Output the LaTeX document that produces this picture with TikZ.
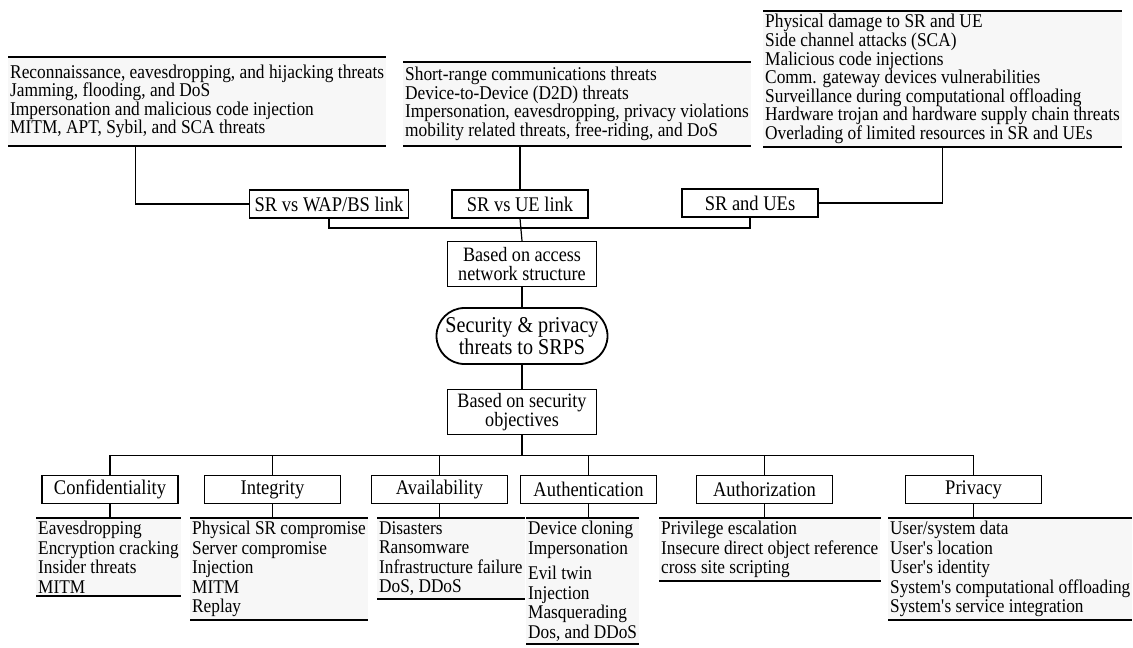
\documentclass[tikz,border=0pt]{standalone}
\usepackage{fontspec}
\setmainfont[FakeStretch=0.89]{Liberation Serif}
\usepackage{tikz}
\usetikzlibrary{positioning}

\definecolor{listgray}{HTML}{F7F7F7}
\newcommand{\apos}{\textquotesingle}

\begin{document}
\begin{tikzpicture}[
  x=1pt, y=-1pt,
  node distance=20pt and 20pt,
  headbox/.style={rectangle, draw=black, line width=1.2pt, minimum width=136pt,
             minimum height=28pt, inner xsep=5pt, inner ysep=2pt,
             font=\fontsize{20.8}{19}\selectfont},
  stagebox/.style={rectangle, draw=black, line width=1.2pt, align=center,
             minimum width=149pt, minimum height=45pt, inner sep=2pt,
             font=\fontsize{20.4}{19.5}\selectfont},
  corebox/.style={rectangle, rounded corners=28pt, draw=black, line width=1.8pt,
             align=center, minimum width=171pt, minimum height=56pt, inner sep=2pt,
             font=\fontsize{22.6}{22}\selectfont},
  rule/.style={draw=black, line width=1.8pt},
  listbox/.style={rectangle, fill=listgray, align=left, inner xsep=2pt, inner ysep=3pt,
             font=\fontsize{19.4}{19.5}\selectfont,
             append after command={(\tikzlastnode.north west) edge[rule] (\tikzlastnode.north east)
                                   (\tikzlastnode.south west) edge[rule] (\tikzlastnode.south east)}},
  toplist/.style={listbox, font=\fontsize{19.5}{18.6}\selectfont},
  link/.style={line width=1.2pt, color=black}
]
\useasboundingbox (0,0) rectangle (1133,648);

% threats by access network structure
\node[toplist, anchor=south west, minimum height=89pt] (recon-list) at (8,146) {%
  Reconnaissance, eavesdropping, and hijacking threats\\
  Jamming, flooding, and DoS\\
  Impersonation and malicious code injection\\
  MITM, APT, Sybil, and SCA threats};
\node[toplist, anchor=south west, minimum height=84pt] (d2d-list) at (403,146) {%
  Short-range communications threats\\
  Device-to-Device (D2D) threats\\
  Impersonation, eavesdropping, privacy violations\\
  mobility related threats, free-riding, and DoS};
\node[toplist, anchor=south west] (phys-list) at (763,147) {%
  Physical damage to SR and UE\\
  Side channel attacks (SCA)\\
  Malicious code injections\\
  Comm. gateway devices vulnerabilities\\
  Surveillance during computational offloading\\
  Hardware trojan and hardware supply chain threats\\
  Overlading of limited resources in SR and UEs};

\node[headbox] (wap) at (329,204) {SR vs WAP/BS link};
\node[headbox] (ue) at (520,204) {SR vs UE link};
\node[headbox] (ues) at (750,203) {SR and UEs};

% centre
\node[corebox] (core) at (522,336) {Security \& privacy\\threats to SRPS};
\node[stagebox, above=20pt of core] (access) {Based on access\\network structure};
\node[stagebox, below=24pt of core] (secobj) {Based on security\\objectives};

% threats by security objectives
\node[headbox] (conf) at (110,489.5) {Confidentiality};
\node[headbox] (integ) at (272.5,489.5) {Integrity};
\node[headbox] (avail) at (439.5,489.5) {Availability};
\node[headbox] (authn) at (588.5,489.5) {Authentication};
\node[headbox] (authz) at (764.5,489.5) {Authorization};
\node[headbox] (priv) at (973.5,489.5) {Privacy};

\node[listbox, anchor=north west] (conf-list) at (36,518) {%
  Eavesdropping\\ Encryption cracking\\ Insider threats\\ MITM};
\node[listbox, anchor=north west] (integ-list) at (190,518) {%
  Physical SR compromise\\ Server compromise\\ Injection\\ MITM\\ Replay};
\node[listbox, anchor=north west] (avail-list) at (377,518) {%
  Disasters\\ Ransomware\\ Infrastructure failure\\ DoS, DDoS};
\node[listbox, anchor=north west] (authn-list) at (526,518) {%
  Device cloning\\ Impersonation\\[6pt] Evil twin\\ Injection\\ Masquerading\\ Dos, and DDoS};
\node[listbox, anchor=north west] (authz-list) at (659,518) {%
  Privilege escalation\\ Insecure direct object reference\\ cross site scripting};
\node[listbox, anchor=north west] (priv-list) at (888,518) {%
  User/system data\\ User\apos s location\\ User\apos s identity\\
  System\apos s computational offloading\\ System\apos s service integration};

% connectors
\draw[link] (wap.west) -| ([xshift=-62pt]recon-list.south);
\draw[link] (d2d-list.south -| ue.north) -- (ue.north);
\draw[link] (ues.east) -| (phys-list.south);
\draw[link] (ue.south) -- (access.north);
\draw[link] (wap.south) |- (ue.south |- 0,228) -| (ues.south);
\draw[link] (access) -- (core);
\draw[link] (core) -- (secobj);
\draw[link] (secobj.south) -- ++(0,20) coordinate (objbus);
\foreach \n in {conf,integ,avail,authn,authz,priv} {
  \draw[link] (objbus) -| (\n.north);
  \draw[link] (\n.south) -- (\n-list.north -| \n.south);
}

\end{tikzpicture}
\end{document}
